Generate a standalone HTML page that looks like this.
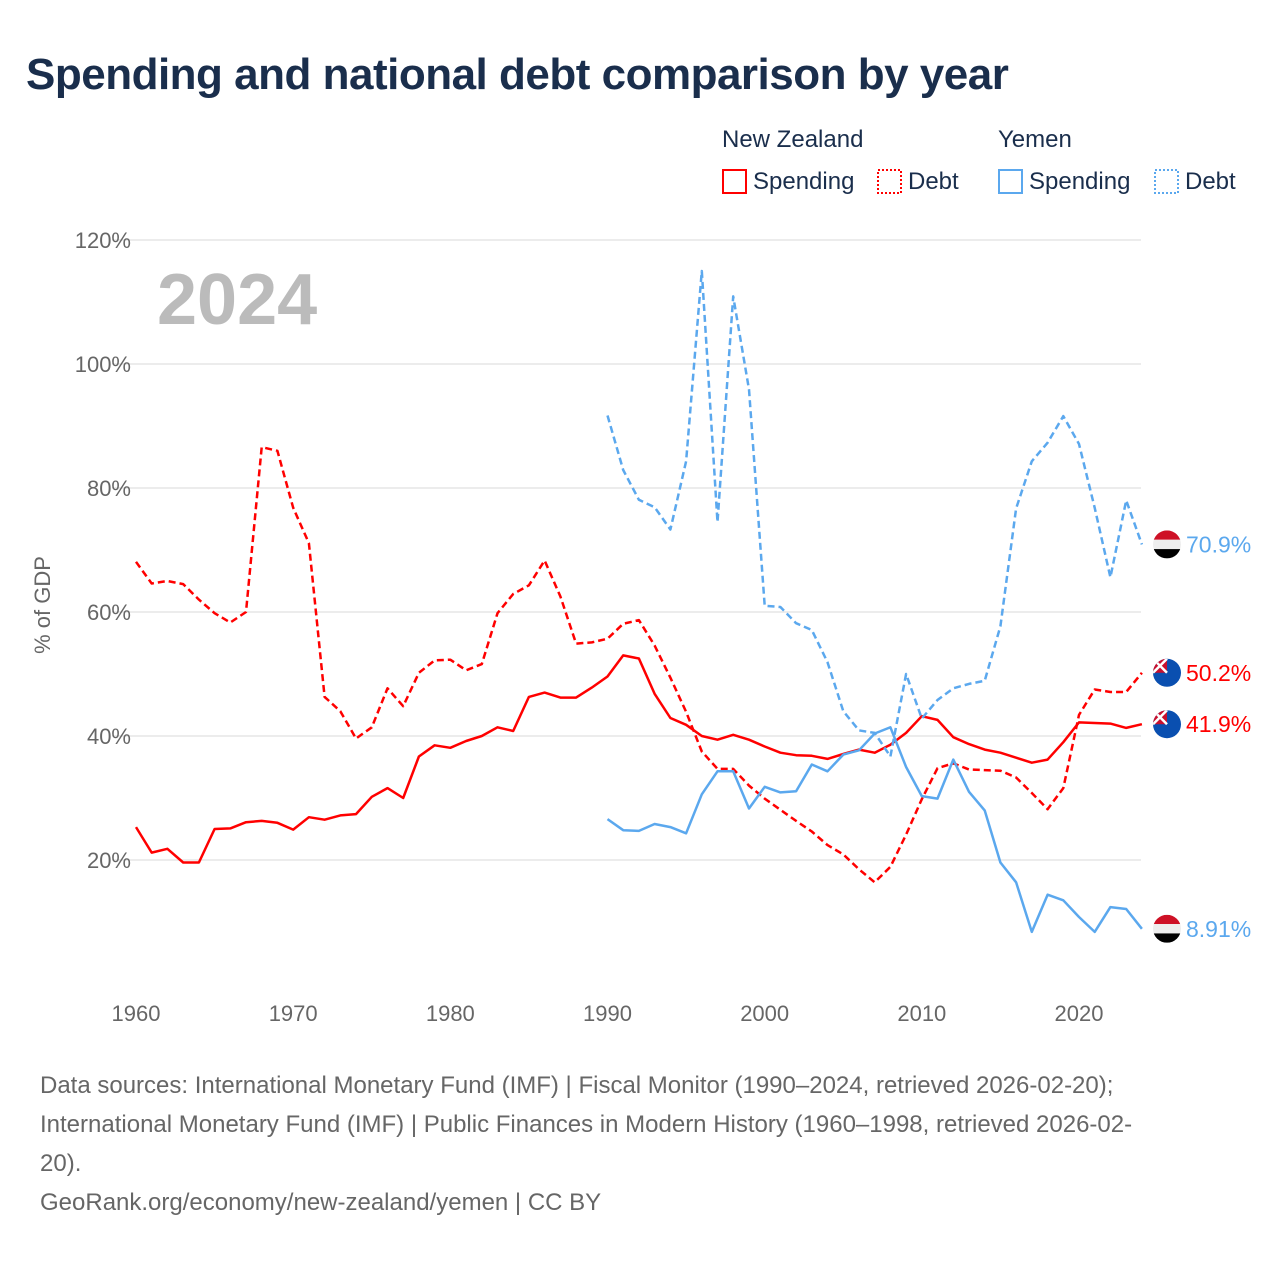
<!DOCTYPE html>
<html><head><meta charset="utf-8"><style>
body{margin:0;background:#fff;font-family:"Liberation Sans",sans-serif;}
#wrap{position:relative;width:1280px;height:1280px;overflow:hidden}
h1{position:absolute;left:26px;top:50px;margin:0;font-size:44px;font-weight:bold;color:#1a2e4c;letter-spacing:-0.5px}
.src{position:absolute;left:40px;top:1066px;font-size:24px;line-height:39px;color:#666;width:1200px}
</style></head><body><div id="wrap">
<h1>Spending and national debt comparison by year</h1>
<svg id="chart" width="1280" height="1280" style="position:absolute;left:0;top:0"></svg>
<div class="src">Data sources: International Monetary Fund (IMF) | Fiscal Monitor (1990–2024, retrieved 2026-02-20);<br>International Monetary Fund (IMF) | Public Finances in Modern History (1960–1998, retrieved 2026-02-<br>20).<br>GeoRank.org/economy/new-zealand/yemen | CC BY</div>
</div>
<script>
const nzYears=[];for(let y=1960;y<=2024;y++)nzYears.push(y);
const yeYears=[];for(let y=1990;y<=2024;y++)yeYears.push(y);
const nzSpending=[25.3,21.2,21.8,19.6,19.6,25,25.1,26.1,26.3,26,24.9,26.9,26.5,27.2,27.4,30.2,31.6,30,36.7,38.5,38.1,39.2,40,41.4,40.8,46.3,47,46.2,46.2,47.8,49.6,53,52.5,46.8,42.9,41.8,40,39.4,40.2,39.4,38.3,37.3,36.9,36.8,36.3,37.1,37.8,37.3,38.6,40.5,43.2,42.6,39.8,38.7,37.8,37.3,36.5,35.7,36.2,39,42.2,42.1,42,41.3,41.9];
const nzDebt=[68.1,64.6,65,64.5,62,59.8,58.3,60,86.6,86,76.8,71.1,46.3,44,39.6,41.4,47.7,44.8,50.2,52.2,52.3,50.6,51.6,59.8,62.9,64.3,68.3,62.5,54.9,55.1,55.7,58.1,58.7,54.6,49.4,43.9,37.5,34.7,34.7,32,29.9,28.1,26.3,24.6,22.4,20.9,18.5,16.4,18.9,24.1,29.8,34.8,35.6,34.6,34.5,34.4,33.3,30.8,28.2,31.6,43.4,47.5,47.1,47.1,50.2];
const yeSpending=[26.6,24.8,24.7,25.8,25.3,24.3,30.6,34.3,34.3,28.3,31.8,30.9,31.1,35.4,34.3,37,37.7,40.4,41.4,35,30.3,29.9,36.2,31,28,19.6,16.4,8.4,14.4,13.5,10.8,8.4,12.4,12.1,8.91];
const yeDebt=[91.7,82.9,78.1,76.9,73.3,84.3,115,74.5,110.9,95.9,61,60.8,58.2,57.1,51.9,44,40.9,40.5,36.7,50,42.8,45.8,47.7,48.4,48.9,57.7,76.7,84.3,87.3,91.6,87.1,76.8,65.6,78,70.9];
const yTicks=[20,40,60,80,100,120];
const xTicks=[1960,1970,1980,1990,2000,2010,2020];
const endLabels=["70.9%","50.2%","41.9%","8.91%"];
const NS="http://www.w3.org/2000/svg";
const svg=document.getElementById('chart');
const X=y=>136+(y-1960)*(1079-136)/60;
const Y=v=>984-v*6.2;
function el(t,a,p){const e=document.createElementNS(NS,t);for(const k in a)e.setAttribute(k,a[k]);(p||svg).appendChild(e);return e;}
yTicks.forEach(t=>{
 const l=el('line',{x1:112,x2:1141,y1:Y(t),y2:Y(t),stroke:'#e6e6e6','stroke-width':1.5});
 
 
 const tx=el('text',{x:131,y:Y(t)+8,'text-anchor':'end','font-size':22,fill:'#666'});tx.textContent=t+'%';
 
 
});
xTicks.forEach(t=>{
 const tx=el('text',{x:X(t),y:1021,'text-anchor':'middle','font-size':22,fill:'#666'});tx.textContent=t;
 
 
});
const yt=el('text',{transform:'translate(50,605) rotate(-90)','text-anchor':'middle','font-size':22,fill:'#666'});yt.textContent='% of GDP';


const yr=el('text',{x:157,y:324,'font-size':72,'font-weight':'bold',fill:'#bbb'});yr.textContent='2024';


function line(years,vals,color,dash,name){
 const d=vals.map((v,i)=>(i?'L':'M')+X(years[i]).toFixed(1)+','+Y(v).toFixed(1)).join('');
 const p=el('path',{d:d,fill:'none',stroke:color,'stroke-width':2.5,'stroke-dasharray':dash||'none','stroke-linejoin':'round'});
 
 
}
line(nzYears,nzDebt,'#ff0000','7 4','nz-debt-line');
line(nzYears,nzSpending,'#ff0000',null,'nz-spending-line');
line(yeYears,yeDebt,'#5ba8ee','7 4','yemen-debt-line');
line(yeYears,yeSpending,'#5ba8ee',null,'yemen-spending-line');
function flag(v,country,name){
 const g=el('g',{});
 
 
 const cx=1167,cy=Y(v),r=14;
 const cid='c'+name;
 const cp=el('clipPath',{id:cid},g);el('circle',{cx:cx,cy:cy,r:r},cp);
 if(country==='ye'){
  el('rect',{x:cx-r,y:cy-r,width:2*r,height:r*2/3,fill:'#ce1126','clip-path':'url(#'+cid+')'},g);
  el('rect',{x:cx-r,y:cy-r/3,width:2*r,height:r*2/3,fill:'#eee','clip-path':'url(#'+cid+')'},g);
  el('rect',{x:cx-r,y:cy+r/3,width:2*r,height:r*2/3,fill:'#000','clip-path':'url(#'+cid+')'},g);
 }else{
  el('circle',{cx:cx,cy:cy,r:r,fill:'#0a4fb0'},g);
  el('rect',{x:cx-r,y:cy-r,width:r,height:r,fill:'#c8102e','clip-path':'url(#'+cid+')'},g);
  el('path',{d:`M${cx-r} ${cy-r}L${cx} ${cy}M${cx} ${cy-r}L${cx-r} ${cy}`,stroke:'#fff','stroke-width':2.5,'clip-path':'url(#'+cid+')'},g);
 }
}
const ends=[[yeDebt[yeDebt.length-1],'ye','#5ba8ee'],[nzDebt[nzDebt.length-1],'nz','#ff0000'],[nzSpending[nzSpending.length-1],'nz','#ff0000'],[yeSpending[yeSpending.length-1],'ye','#5ba8ee']];
ends.forEach((e,i)=>{
 flag(e[0],e[1],'end-flag-'+i);
 const t=el('text',{x:1186,y:Y(e[0])+8,'font-size':23,fill:e[2]});t.textContent=endLabels[i];
 
 
});
// legend
const lg=el('g',{});


[['New Zealand',722],['Yemen',998]].forEach(a=>{const t=el('text',{x:a[1],y:147,'font-size':24,fill:'#1a2e4c'},lg);t.textContent=a[0];});
[[722,'#ff0000','none','Spending'],[877,'#ff0000','2 2','Debt'],[998,'#5ba8ee','none','Spending'],[1154,'#5ba8ee','2 2','Debt']].forEach((a,i)=>{
 const g=el('g',{},lg);
 
 
 el('rect',{x:a[0]+1,y:170,width:23,height:23,fill:'none',stroke:a[1],'stroke-width':2,'stroke-dasharray':a[2]},g);
 const t=el('text',{x:a[0]+31,y:189,'font-size':24,fill:'#1a2e4c'},g);t.textContent=a[3];
});
</script></body></html>
